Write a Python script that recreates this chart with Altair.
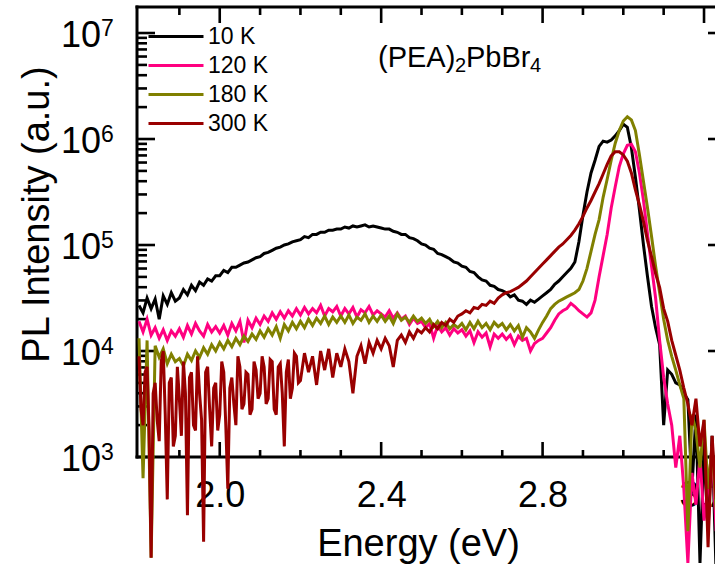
import altair as alt
import pandas as pd

FONT = "Liberation Sans"

# ---------------- data ----------------
temperatures = ["10 K", "120 K", "180 K", "300 K"]
line_colors = ["#000000", "#ff0080", "#808000", "#990000"]

# photon energy grid (eV): 1.80 ... 3.25 in 0.01 eV steps
energy_start, energy_step = 1.80, 0.01

# log10 of PL intensity (a.u.), one row per 0.1 eV
log_pl_10K = [
    4.43, 4.36, 4.50, 4.40, 4.49, 4.30, 4.52, 4.44, 4.55, 4.47,
    4.50, 4.58, 4.53, 4.62, 4.57, 4.65, 4.62, 4.68, 4.66, 4.71,
    4.71, 4.76, 4.74, 4.79, 4.79, 4.81, 4.83, 4.84, 4.86, 4.88,
    4.89, 4.92, 4.93, 4.95, 4.97, 4.98, 5.00, 5.01, 5.03, 5.04,
    5.05, 5.08, 5.07, 5.10, 5.10, 5.12, 5.12, 5.14, 5.14, 5.15,
    5.15, 5.17, 5.16, 5.18, 5.17, 5.18, 5.19, 5.17, 5.18, 5.17,
    5.16, 5.15, 5.15, 5.13, 5.12, 5.10, 5.10, 5.07, 5.06, 5.04,
    5.01, 5.00, 4.97, 4.96, 4.92, 4.91, 4.89, 4.87, 4.84, 4.83,
    4.80, 4.79, 4.75, 4.74, 4.70, 4.67, 4.66, 4.62, 4.61, 4.58,
    4.57, 4.55, 4.51, 4.53, 4.48, 4.47, 4.44, 4.48, 4.46, 4.49,
    4.52, 4.55, 4.58, 4.63, 4.66, 4.70, 4.74, 4.78, 4.84, 5.03,
    5.28, 5.50, 5.68, 5.80, 5.93, 5.98, 5.97, 5.99, 6.03, 6.08,
    6.14, 6.11, 5.92, 5.64, 5.33, 5.00, 4.70, 4.42, 4.22, 4.06,
    3.30, 3.82, 3.78, 3.70, 3.68, 3.60, 3.54, 2.70, 3.40, 2.00,
    3.10, 2.30, 3.20, 1.90, 2.80, 2.40,
]
log_pl_120K = [
    4.28, 4.18, 4.30, 4.15, 4.22, 4.12, 4.20, 4.10, 4.19, 4.14,
    4.21, 4.13, 4.24, 4.16, 4.26, 4.19, 4.14, 4.25, 4.18, 4.23,
    4.17, 4.24, 4.15, 4.26, 4.19, 4.28, 4.08, 4.29, 4.22, 4.31,
    4.25, 4.33, 4.28, 4.36, 4.30, 4.37, 4.31, 4.38, 4.33, 4.40,
    4.34, 4.41, 4.35, 4.40, 4.36, 4.43, 4.33, 4.40, 4.37, 4.42,
    4.33, 4.40, 4.35, 4.41, 4.32, 4.39, 4.36, 4.42, 4.34, 4.38,
    4.35, 4.32, 4.38, 4.31, 4.36, 4.30, 4.33, 4.25, 4.31, 4.26,
    4.28, 4.22, 4.26, 4.12, 4.24, 4.18, 4.22, 4.15, 4.21, 4.17,
    4.20, 4.14, 4.19, 4.08, 4.18, 4.13, 4.17, 4.04, 4.16, 4.12,
    4.16, 4.11, 4.15, 4.06, 4.14, 4.10, 4.12, 4.00, 4.07, 4.10,
    4.12, 4.17, 4.22, 4.29, 4.35, 4.38, 4.40, 4.45, 4.42, 4.38,
    4.35, 4.32, 4.36, 4.48, 4.70, 4.90, 5.10, 5.35, 5.55, 5.74,
    5.86, 5.94, 5.95, 5.88, 5.68, 5.42, 5.10, 4.80, 4.50, 4.10,
    3.75, 3.50, 3.30, 2.90, 3.20, 2.70, 2.00, 2.85, 2.55, 3.00,
    2.40, 2.70, 3.10, 2.30, 2.90, 2.50,
]
log_pl_180K = [
    4.12, 2.80, 4.10, 2.05, 4.05, 3.94, 4.02, 3.88, 3.97, 3.90,
    3.93, 3.86, 3.97, 3.91, 4.00, 3.94, 4.03, 3.97, 4.06, 4.00,
    4.08, 4.02, 4.10, 4.04, 4.12, 4.06, 4.14, 4.09, 4.16, 4.11,
    4.19, 4.13, 4.21, 4.15, 4.23, 4.12, 4.25, 4.19, 4.27, 4.21,
    4.28, 4.22, 4.30, 4.24, 4.31, 4.26, 4.33, 4.25, 4.32, 4.27,
    4.33, 4.27, 4.34, 4.26, 4.32, 4.29, 4.35, 4.27, 4.33, 4.28,
    4.34, 4.28, 4.33, 4.26, 4.35, 4.29, 4.32, 4.27, 4.33, 4.28,
    4.31, 4.26, 4.30, 4.23, 4.28, 4.22, 4.27, 4.21, 4.25, 4.22,
    4.26, 4.20, 4.27, 4.21, 4.28, 4.22, 4.26, 4.20, 4.27, 4.23,
    4.26, 4.20, 4.25, 4.19, 4.24, 4.13, 4.22, 4.18, 4.12, 4.20,
    4.27, 4.33, 4.40, 4.44, 4.47, 4.49, 4.51, 4.53, 4.55, 4.58,
    4.66, 4.78, 4.94, 5.10, 5.24, 5.45, 5.62, 5.80, 5.96, 6.08,
    6.17, 6.21, 6.18, 6.08, 5.85, 5.60, 5.35, 5.08, 4.80, 4.55,
    4.30, 4.10, 3.95, 3.82, 3.68, 3.55, 2.30, 3.40, 3.25, 2.90,
    3.35, 2.70, 3.10, 2.50, 2.95, 2.60,
]
# 300 K: noisy low-energy part sampled every 0.005 eV (1.800 ... 2.195)
fine_start, fine_step = 1.80, 0.005
log_pl_300K_fine = [
    3.95, 3.45, 3.30, 3.80, 3.85, 3.25, 2.05, 3.60, 3.70, 3.35,
    3.15, 3.90, 4.00, 3.40, 2.60, 3.70, 3.75, 3.10, 3.20, 3.85,
    3.55, 3.20, 3.90, 3.60, 2.45, 3.75, 3.80, 3.30, 3.25, 3.95,
    3.60, 3.35, 2.20, 3.80, 3.85, 3.45, 3.10, 3.65, 3.70, 3.25,
    3.40, 3.90, 3.80, 3.30, 2.70, 3.65, 3.75, 3.50, 3.30, 3.95,
    3.85, 3.45, 3.50, 3.80, 3.78, 3.40, 3.45, 3.90, 3.82, 3.55,
    3.60, 3.95, 3.85, 3.50, 3.55, 3.92, 3.90, 3.45, 3.40, 3.85,
    3.88, 3.60, 3.10, 3.80, 3.92, 3.55, 3.65, 3.98, 3.95, 3.70,
]
# 300 K: 2.20 ... 3.25 every 0.01 eV
coarse_start = 2.20
log_pl_300K = [
    3.72, 3.98, 3.80, 3.95, 3.68, 4.00, 3.82, 4.02, 3.75, 3.98,
    3.85, 4.02, 3.90, 3.60, 3.95, 4.05, 3.88, 4.08, 3.98, 4.10,
    4.02, 4.12, 4.05, 3.85, 4.10, 4.15, 4.08, 4.18, 4.12, 4.20,
    4.17, 4.22, 4.18, 4.25, 4.21, 4.27, 4.24, 4.30, 4.27, 4.33,
    4.35, 4.38, 4.36, 4.41, 4.40, 4.44, 4.43, 4.47, 4.45, 4.50,
    4.53, 4.55, 4.56, 4.58, 4.60, 4.63, 4.66, 4.70, 4.74, 4.78,
    4.82, 4.86, 4.90, 4.94, 4.98, 5.01, 5.05, 5.09, 5.14, 5.20,
    5.27, 5.35, 5.42, 5.50, 5.58, 5.67, 5.76, 5.84, 5.88, 5.88,
    5.85, 5.79, 5.68, 5.52, 5.38, 5.22, 5.04, 4.89, 4.73, 4.60,
    4.40, 4.28, 4.10, 3.96, 3.82, 3.65, 3.50, 3.30, 3.55, 3.10,
    3.35, 2.15, 3.20, 2.60, 3.00, 2.70,
]

# axis ticks / labels
x_label_values = [2.0, 2.4, 2.8, 3.2]
x_minor_ticks = [1.9, 2.1, 2.2, 2.3, 2.5, 2.6, 2.7, 2.9, 3.0, 3.1]
y_decades = [1e3, 1e4, 1e5, 1e6, 1e7]
y_exponents = ["3", "4", "5", "6", "7"]
y_minor_ticks = [m * d for d in [1e3, 1e4, 1e5, 1e6] for m in range(2, 10)]

# ---------------- tables ----------------
rows = []
for t, arr in zip(temperatures[:3], [log_pl_10K, log_pl_120K, log_pl_180K]):
    for k, v in enumerate(arr):
        rows.append({"E": round(energy_start + energy_step * k, 3), "I": 10 ** v, "T": t})
for k, v in enumerate(log_pl_300K_fine):
    rows.append({"E": round(fine_start + fine_step * k, 3), "I": 10 ** v, "T": temperatures[3]})
for k, v in enumerate(log_pl_300K):
    rows.append({"E": round(coarse_start + energy_step * k, 3), "I": 10 ** v, "T": temperatures[3]})
df = pd.DataFrame(rows)

W, H = 578, 450
xscale = alt.Scale(domain=[1.795, 3.2272], nice=False, zero=False)
yscale = alt.Scale(type="log", domain=[1e3, 1.76e7], nice=False)

xaxis = alt.Axis(
    values=x_label_values, format=".1f", ticks=False, domain=False, grid=False,
    labelFontSize=36, labelFont=FONT, labelColor="black", labelPadding=21,
    labelFlush=False, labelOverlap=False,
    title="Energy (eV)", titleFontSize=38, titleFont=FONT, titleFontWeight="normal",
    titleColor="black", titleX=281, titleY=98, titleBaseline="alphabetic", titleAlign="center")
yaxis = alt.Axis(
    labels=False, ticks=False, domain=False, grid=False,
    title="PL Intensity (a.u.)", titleFontSize=38, titleFont=FONT, titleFontWeight="normal",
    titleColor="black", titleX=-89, titleY=207, titleAngle=270,
    titleBaseline="alphabetic", titleAlign="center")

def X(field):
    return alt.X(field, scale=xscale, axis=xaxis)

def Y(field):
    return alt.Y(field, scale=yscale, axis=yaxis)

one = pd.DataFrame({"a": [0]})
TICK = dict(color="black", strokeWidth=2.6)

def hrule(y, x1, x2, sw=3):
    return alt.Chart(one).mark_rule(color="black", strokeWidth=sw, strokeCap="square").encode(
        x=alt.value(x1), x2=alt.value(x2), y=alt.value(y))

def vrule(x, y1, y2, sw=3):
    return alt.Chart(one).mark_rule(color="black", strokeWidth=sw, strokeCap="square").encode(
        x=alt.value(x), y=alt.value(y1), y2=alt.value(y2))

frame = [hrule(0, 0, W + 20), hrule(H, 0, W + 20), vrule(0, 0, H)]

xmaj = pd.DataFrame({"v": x_label_values})
xmin = pd.DataFrame({"v": x_minor_ticks})
ymaj = pd.DataFrame({"v": y_decades, "e": y_exponents})
ymin = pd.DataFrame({"v": y_minor_ticks})

def xticks(d, y1, y2):
    return alt.Chart(d).mark_rule(**TICK).encode(x=X("v:Q"), y=alt.value(y1), y2=alt.value(y2))

def yticks(d, x1, x2):
    return alt.Chart(d).mark_rule(**TICK).encode(y=Y("v:Q"), x=alt.value(x1), x2=alt.value(x2))

ticks = [
    xticks(xmaj, H, H - 15), xticks(xmin, H, H - 7),
    xticks(xmaj, 0, 16), xticks(xmin, 0, 8),
    yticks(ymaj, 0, 18), yticks(ymin, 0, 10),
    yticks(ymaj, W - 7, W),
]

ylab_base = alt.Chart(ymaj).mark_text(
    align="right", baseline="alphabetic", dy=14, fontSize=36, font=FONT, color="black"
).encode(y=Y("v:Q"), x=alt.value(-36), text=alt.value("10"))
ylab_exp = alt.Chart(ymaj).mark_text(
    align="left", baseline="alphabetic", dy=3, fontSize=23, font=FONT, color="black"
).encode(y=Y("v:Q"), x=alt.value(-36), text="e:N")

def label(txt, x, y, size):
    return alt.Chart(one).mark_text(
        align="left", baseline="alphabetic", fontSize=size, font=FONT, color="black"
    ).encode(x=alt.value(x), y=alt.value(y), text=alt.value(txt))

annotation = [
    label("(PEA)", 241, 60, 29), label("2", 318, 65, 20),
    label("PbBr", 329, 60, 29), label("4", 393, 65, 20),
]

lines = alt.Chart(df).mark_line(strokeWidth=3).encode(
    x=X("E:Q"),
    y=Y("I:Q"),
    color=alt.Color("T:N", sort=temperatures,
                    scale=alt.Scale(domain=temperatures, range=line_colors),
                    legend=alt.Legend(title=None, orient="none", legendX=10, legendY=15,
                                      symbolType="stroke", symbolSize=3025, symbolStrokeWidth=3,
                                      labelFontSize=23, labelFont=FONT, labelColor="black",
                                      labelOffset=3, clipHeight=29, rowPadding=0, padding=0)),
)

chart = alt.layer(*frame, *ticks, ylab_base, ylab_exp, *annotation, lines).properties(
    width=W, height=H,
    autosize=alt.AutoSizeParams(type="none"),
    padding={"left": 137, "top": 7, "right": 0, "bottom": 107},
    background="white",
).configure_view(stroke=None)

chart.save("out.html", embed_options={"renderer": "svg", "actions": False})
